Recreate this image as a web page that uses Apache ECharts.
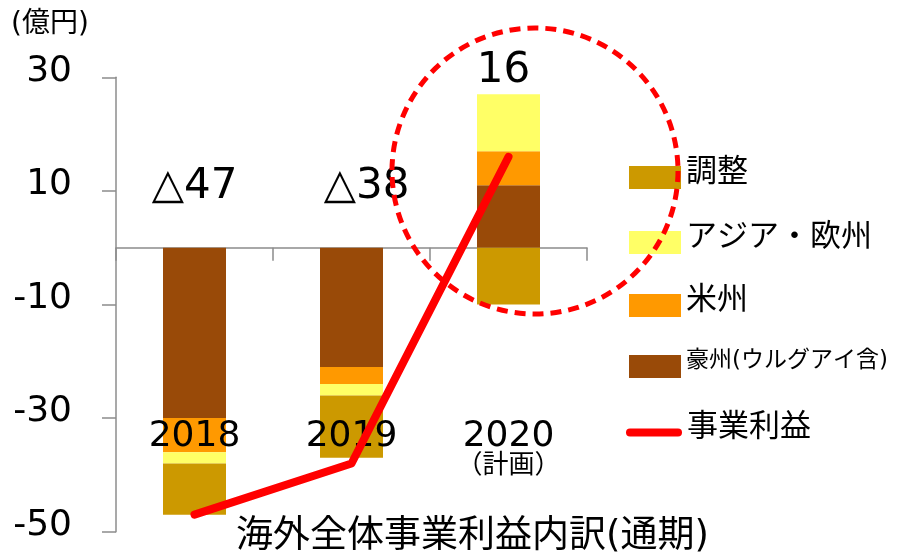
<!DOCTYPE html>
<html>
<head>
<meta charset="utf-8">
<script src="https://cdn.jsdelivr.net/npm/echarts@6/dist/echarts.min.js"></script>
<style>html,body{margin:0;padding:0;background:#fff}#c{width:899px;height:559px}</style>
</head>
<body>
<div id="c"></div>
<script>
const categories = ['2018', '2019', '2020'];
const subLabels = ['', '', '（計画）'];
const australia = [-30, -21, 11];
const americas = [-6, -3, 6];
const asiaEurope = [-2, -2, 10];
const adjustment = [-9, -11, -10];
const operatingProfit = [-47, -38, 16];
const totalLabels = ['△47', '△38', '16'];
const yTickLabels = ['-50', '-30', '-10', '10', '30'];

const FONT = "'DejaVu Sans', 'Noto Sans CJK JP', sans-serif";
const AXIS = '#8c8c8c';
const C_AUS = '#994a08', C_AM = '#ff9900', C_AE = '#ffff66', C_ADJ = '#cc9900', C_LINE = '#ff0000';

const chart = echarts.init(document.getElementById('c'), null, {renderer: 'canvas'});

const CAPSULE = 'path://M4,0 L52,0 A4,4 0 0 1 52,8 L4,8 A4,4 0 0 1 4,0 Z';

function legendItem(name, left, top, fs, isLine) {
  return {
    data: [{name: name, icon: isLine ? CAPSULE : 'rect'}],
    left: left, top: top, orient: 'vertical', padding: 0, itemGap: 0,
    itemWidth: isLine ? 56 : 52, itemHeight: isLine ? 8 : 23, selectedMode: false,
    formatter: function (n) { return '{a|' + n + '}'; },
    textStyle: {
      fontSize: fs, color: '#000', fontFamily: FONT,
      rich: {a: {fontSize: fs, color: '#000', fontFamily: FONT, lineHeight: 30, padding: [0, 0, 10, 0]}}
    }
  };
}

function barSeries(name, data, color) {
  return {
    name: name, type: 'bar', stack: 'total', data: data, barWidth: 63,
    xAxisIndex: 0, yAxisIndex: 0,
    itemStyle: {color: color}, emphasis: {disabled: true}
  };
}

const labelAnchorY = [10.7, 10.7, 31.1];
const labelShiftX = [0, 15, -5];

const option = {
  animation: false,
  textStyle: {fontFamily: FONT},
  title: [
    {text: '海外全体事業利益内訳(通期)', left: 236, top: 519, padding: 0,
     textStyle: {fontSize: 37, fontWeight: 'normal', color: '#000', fontFamily: FONT}},
    {text: '(億円)', left: 11, top: 11, padding: 0,
     textStyle: {fontSize: 28, fontWeight: 'normal', color: '#000', fontFamily: FONT}}
  ],
  grid: {left: 116, right: 312, top: 77.3, bottom: 27.3, containLabel: false, outerBoundsMode: 'none'},
  xAxis: [
    {
      type: 'category', data: categories, position: 'bottom',
      axisLine: {onZero: true, lineStyle: {color: AXIS, width: 1.5}},
      axisTick: {show: true, length: 13, lineStyle: {color: AXIS, width: 1.5}},
      axisLabel: {show: false}
    },
    {
      type: 'category', data: categories, position: 'bottom', z: 10,
      axisLine: {show: false}, axisTick: {show: false}, splitLine: {show: false},
      axisLabel: {
        interval: 0, hideOverlap: false,
        margin: -113, fontSize: 36, lineHeight: 36, color: '#000', fontFamily: FONT,
        formatter: function (v, i) { return subLabels[i] ? v + '\n{s|' + subLabels[i] + '}' : v; },
        rich: {s: {fontSize: 26, lineHeight: 24, color: '#000', fontFamily: FONT}}
      }
    }
  ],
  yAxis: [
    {type: 'value', min: -50, max: 30, show: false, position: 'left'},
    {
      type: 'category', data: yTickLabels, boundaryGap: false, position: 'left',
      axisLine: {show: true, lineStyle: {color: AXIS, width: 1.5}},
      axisTick: {show: true, interval: 0, length: 14, lineStyle: {color: AXIS, width: 1.5}},
      axisLabel: {interval: 0, fontSize: 36, color: '#000', margin: 44, verticalAlign: 'bottom', lineHeight: 12, fontFamily: FONT},
      splitLine: {show: false}
    }
  ],
  legend: [
    legendItem('調整', 629, 157, 31, false),
    legendItem('アジア・欧州', 629, 222, 31, false),
    legendItem('米州', 629, 285, 31, false),
    legendItem('豪州(ウルグアイ含)', 629, 350, 23, false),
    legendItem('事業利益', 626, 412, 31, true)
  ],
  series: [
    barSeries('豪州(ウルグアイ含)', australia, C_AUS),
    barSeries('米州', americas, C_AM),
    barSeries('アジア・欧州', asiaEurope, C_AE),
    barSeries('調整', adjustment, C_ADJ),
    {
      name: '事業利益', type: 'line', data: operatingProfit, symbol: 'none',
      xAxisIndex: 0, yAxisIndex: 0, z: 15,
      lineStyle: {color: C_LINE, width: 8, cap: 'round', join: 'round'},
      itemStyle: {color: C_LINE}, emphasis: {disabled: true}
    },
    {
      name: 'totals', type: 'scatter', xAxisIndex: 0, yAxisIndex: 0, z: 6, clip: false,
      symbolSize: 1, itemStyle: {color: 'rgba(0,0,0,0)', opacity: 1}, silent: true,
      data: categories.map(function (c, i) {
        return {value: [i, labelAnchorY[i]], label: {offset: [labelShiftX[i], 0]}};
      }),
      label: {
        show: true, position: 'inside', fontSize: 42, color: '#000', fontFamily: FONT,
        textBorderWidth: 0,
        formatter: function (p) { return totalLabels[p.dataIndex]; }
      }
    }
  ],
  graphic: [
    {type: 'circle', shape: {cx: 535, cy: 171, r: 143}, z: 10, silent: true,
     style: {fill: 'none', stroke: C_LINE, lineWidth: 5, lineDash: [11, 7]}}
  ]
};
chart.setOption(option);
</script>
</body>
</html>
